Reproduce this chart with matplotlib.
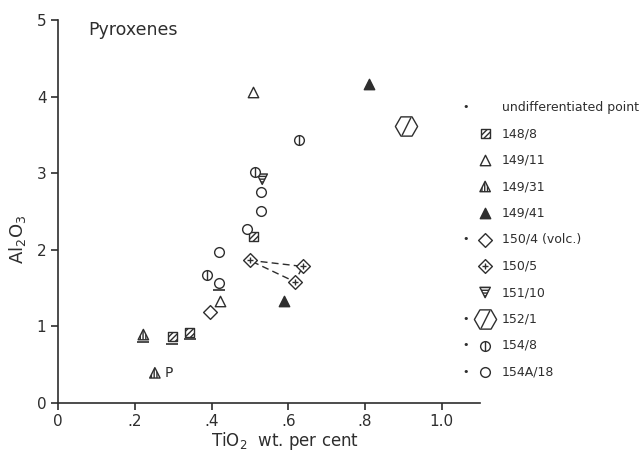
import matplotlib
matplotlib.use("Agg")
import matplotlib.pyplot as plt
from matplotlib.path import Path

# TiO2 (wt. %) and Al2O3 values per sample
s148_8_x = [0.298, 0.343, 0.509]
s148_8_y = [0.86, 0.92, 2.17]
s149_11_x = [0.508, 0.422]
s149_11_y = [4.06, 1.33]
s149_31_x = [0.222, 0.252]
s149_31_y = [0.89, 0.39]
s149_41_x = [0.81, 0.589]
s149_41_y = [4.16, 1.33]
s150_4_x = [0.396]
s150_4_y = [1.18]
s150_5_x = [0.499, 0.638, 0.617]
s150_5_y = [1.86, 1.78, 1.58]
s151_10_x = [0.532]
s151_10_y = [2.92]
s152_1_x = [0.907]
s152_1_y = [3.61]
s154_8_x = [0.629, 0.513, 0.389]
s154_8_y = [3.43, 3.01, 1.67]
s154a_18_x = [0.53, 0.53, 0.493, 0.419, 0.419]
s154a_18_y = [2.75, 2.51, 2.27, 1.97, 1.57]

# points that carry an underline in the original
underlined_x = [0.222, 0.298, 0.343, 0.419]
underlined_y = [0.89, 0.86, 0.92, 1.57]

legend_labels = ["undifferentiated point", "148/8", "149/11", "149/31", "149/41",
                 "150/4 (volc.)", "150/5", "151/10", "152/1", "154/8", "154A/18"]
legend_dots = [True, False, False, False, False, True, False, False, True, True, True]

x_ticks = [0, 0.2, 0.4, 0.6, 0.8, 1.0]
x_tick_labels = ["0", ".2", ".4", ".6", ".8", "1.0"]
y_ticks = [0, 1, 2, 3, 4, 5]

INK = "0.18"
slash = Path([(-0.45, -0.9), (0.45, 0.9)])
underline = Path([(-0.82, -1.0), (0.82, -1.0)])

# each symbol is a list of scatter layers
symbols = {
    "148/8": [dict(marker="s", s=6.5 ** 2, facecolor="white", hatch="//////")],
    "149/11": [dict(marker="^", s=7.5 ** 2, facecolor="white")],
    "149/31": [dict(marker="^", s=7.5 ** 2, facecolor="white", hatch="||||||")],
    "149/41": [dict(marker="^", s=7.5 ** 2, facecolor=INK)],
    "150/4 (volc.)": [dict(marker="D", s=7 ** 2, facecolor="white")],
    "150/5": [dict(marker="D", s=7 ** 2, facecolor="white"),
              dict(marker="+", s=5 ** 2)],
    "151/10": [dict(marker="v", s=7.5 ** 2, facecolor="white", hatch="------")],
    "152/1": [dict(marker="H", s=16 ** 2, facecolor="white"),
              dict(marker=slash, s=13 ** 2)],
    "154/8": [dict(marker="o", s=7 ** 2, facecolor="white"),
              dict(marker="|", s=7 ** 2)],
    "154A/18": [dict(marker="o", s=7 ** 2, facecolor="white")],
}

series = [("148/8", s148_8_x, s148_8_y), ("149/11", s149_11_x, s149_11_y),
          ("149/31", s149_31_x, s149_31_y), ("149/41", s149_41_x, s149_41_y),
          ("150/4 (volc.)", s150_4_x, s150_4_y), ("150/5", s150_5_x, s150_5_y),
          ("151/10", s151_10_x, s151_10_y), ("152/1", s152_1_x, s152_1_y),
          ("154/8", s154_8_x, s154_8_y), ("154A/18", s154a_18_x, s154a_18_y)]


def draw_symbol(ax, name, x, y, **kw):
    for layer in symbols[name]:
        opts = dict(edgecolor=INK, linewidths=1.0, zorder=3)
        opts.update(layer)
        if "facecolor" not in layer:
            opts["color"] = INK
            opts.pop("edgecolor")
        opts.update(kw)
        ax.scatter(x, y, **opts)


fig = plt.figure(figsize=(6.4, 4.55), dpi=100)
ax = fig.add_axes([0.091, 0.115, 0.659, 0.841])

# dashed tie lines between the 150/5 analyses
ax.plot(s150_5_x + s150_5_x[:1], s150_5_y + s150_5_y[:1], ls=(0, (5, 3)), color=INK, lw=1.0, zorder=2)

for name, xs, ys in series:
    draw_symbol(ax, name, xs, ys)

ax.scatter(underlined_x, underlined_y, marker=underline, s=10.5 ** 2, color=INK, linewidths=1.2)
ax.annotate("P", (s149_31_x[1], s149_31_y[1]), xytext=(7, -3), textcoords="offset points",
            fontsize=10, color=INK)

ax.set_xlim(0, 1.1)
ax.set_ylim(0, 5)
ax.set_xticks(x_ticks)
ax.set_xticklabels(x_tick_labels)
ax.set_yticks(y_ticks)
for side in ["top", "right"]:
    ax.spines[side].set_visible(False)
for side in ["left", "bottom"]:
    ax.spines[side].set_color(INK)
    ax.spines[side].set_linewidth(1.2)
ax.tick_params(direction="out", length=5, width=1.2, color=INK, labelsize=11, labelcolor=INK)

ax.text(0.07, 0.975, "Pyroxenes", transform=ax.transAxes, fontsize=12.5, color=INK, va="center")
fig.text(0.028, 0.475, "Al$_2$O$_3$", rotation=90, fontsize=13, color=INK, va="center", ha="center")
fig.text(0.33, 0.03, "TiO$_2$  wt. per cent", fontsize=12, color=INK, va="center")

# hand-drawn legend to the right
for i, label in enumerate(legend_labels):
    yf = 1 - (107 + 26.5 * i) / 455
    if legend_dots[i]:
        fig.text(0.728, yf, "•", fontsize=8, color=INK, va="center", ha="center")
    if label in symbols:
        draw_symbol(ax, label, [0.758], [yf], transform=fig.transFigure, clip_on=False)
    fig.text(0.784, yf, label, fontsize=9, color=INK, va="center")

fig.savefig("out.png", dpi=100)
